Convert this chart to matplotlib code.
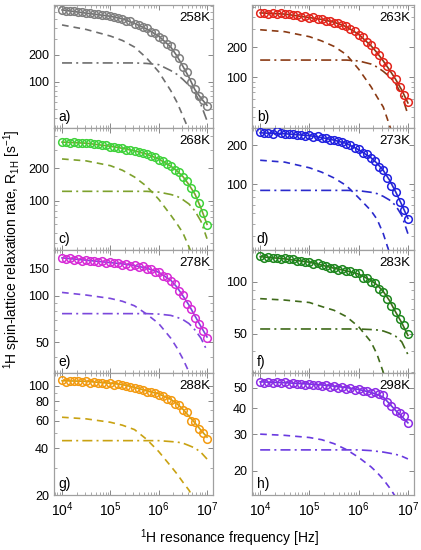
import numpy as np
import matplotlib
matplotlib.use("Agg")
import matplotlib.pyplot as plt
from matplotlib.ticker import FixedLocator, LogLocator, NullFormatter, FixedFormatter, LogFormatterMathtext

plt.rcParams['font.family'] = ['Liberation Sans', 'DejaVu Sans']
plt.rcParams['mathtext.default'] = 'regular'

# measured frequencies [kHz], 12 per decade
freq_khz = [10, 12.1, 14.7, 17.8, 21.5, 26.1, 31.6, 38.3, 46.4, 56.2, 68.1, 82.5,
            100, 121, 147, 178, 215, 261, 316, 383, 464, 562, 681, 825,
            1000, 1210, 1470, 1780, 2150, 2610, 3160, 3830, 4640, 5620, 6810, 8250, 10000]
# frequencies where the fitted curves were read [kHz]
fit_khz = [10, 31.6, 100, 178, 316, 562, 1000, 1780, 2370, 3160, 4220, 5620, 7500, 10000]

temps = ['258K', '263K', '268K', '273K', '278K', '283K', '288K', '298K']
letters = ['a)', 'b)', 'c)', 'd)', 'e)', 'f)', 'g)', 'h)']

# R1H data, s^-1
r258 = [640, 622, 612, 618, 596, 600, 580, 584, 566, 570, 552, 556, 538, 532, 512, 508, 482, 474, 448,
        436, 405, 395, 365, 352, 320, 305, 268, 250, 208, 185, 148, 128, 100, 84, 70, 63, 54]
r263 = [438, 444, 432, 440, 428, 434, 426, 430, 415, 418, 404, 408, 392, 396, 380, 384, 366, 368, 352,
        346, 330, 322, 300, 290, 264, 250, 224, 210, 182, 168, 142, 128, 108, 96, 80, 66, 56]
r268 = [350, 356, 346, 352, 343, 349, 342, 344, 335, 338, 328, 330, 320, 320, 310, 312, 300, 300, 290,
        287, 277, 274, 260, 256, 242, 236, 220, 212, 194, 184, 165, 152, 130, 116, 94, 77, 59]
r273 = [250, 246, 249, 244, 254, 246, 245, 243, 242, 238, 240, 236, 237, 232, 233, 228, 226, 220, 219,
        213, 211, 204, 200, 190, 185, 175, 170, 158, 150, 136, 128, 112, 98, 88, 74, 64, 54]
r278 = [177, 172, 175, 170, 172, 168, 170, 167, 169, 165, 167, 163, 165, 162, 163, 159, 161, 156, 158,
        153, 155, 150, 149, 143, 143, 135, 133, 124, 119, 107, 101, 89, 82, 72, 66, 59, 53]
r283 = [141, 138, 139, 137, 138, 136, 137, 135, 135, 133, 133, 131, 131, 127, 128, 125, 124, 121, 121,
        117, 118, 115, 115, 112, 112, 106, 106, 100, 98, 91, 88, 80, 73, 67, 61, 56, 50]
r288 = [109, 106, 108, 107, 108, 106, 107, 105, 106, 104, 105, 103, 104, 102, 103, 101, 100, 98, 97,
        95, 94, 92, 91, 90, 88, 86, 83, 81, 77, 75, 70, 68, 60, 59, 53, 50, 46]
r298 = [53.5, 53.0, 53.6, 53.0, 53.4, 52.6, 53.2, 52.5, 52.8, 52.0, 52.5, 51.8, 52.3, 51.5, 51.8, 51.0,
        51.4, 50.5, 51.0, 50.2, 50.4, 49.6, 49.8, 48.8, 49.2, 48.2, 48.5, 47.4, 47.6, 47.0, 46.0, 43.0,
        41.0, 38.8, 37.8, 36.5, 34.0]

# total fit (solid), first contribution (dashed), second contribution (dash-dot)
fit258 = [635, 585, 540, 505, 450, 390, 325, 245, 196, 150, 113, 82, 66, 55]
slow258 = [432, 385, 325, 290, 245, 185, 130, 80, 60, 42, 29, 20, 13, 8]
fast258 = [163, 163, 163, 163, 163, 161, 156, 134, 122, 107, 92, 76, 56, 37]

fit263 = [440, 428, 395, 378, 355, 320, 268, 206, 175, 145, 118, 95, 74, 55]
slow263 = [298, 285, 254, 230, 203, 168, 120, 80, 63, 50, 33, 22, 14, 9]
fast263 = [148, 148, 148, 148, 148, 148, 145, 135, 126, 114, 101, 86, 66, 42]

fit268 = [352, 344, 322, 308, 292, 272, 245, 210, 190, 168, 141, 115, 85, 60]
slow268 = [245, 235, 212, 192, 166, 136, 103, 73, 61, 50, 37, 27, 19, 12]
fast268 = [122, 122, 122, 122, 122, 122, 120, 114, 110, 102, 93, 80, 64, 44]

fit273 = [248, 244, 236, 228, 218, 206, 184, 160, 145, 128, 108, 88, 70, 55]
slow273 = [153, 148, 134, 124, 112, 98, 79, 63, 54, 42, 30, 20, 13, 8]
fast273 = [90, 90, 90, 90, 90, 90, 89.5, 87, 85, 81, 76, 69, 58, 42]

fit278 = [176, 170, 164, 161, 157, 151, 142, 126, 114, 100, 87, 74, 63, 54]
slow278 = [105, 101, 96, 92, 86, 76, 66, 53, 46, 39, 32, 25, 18, 12]
fast278 = [76.5, 76.5, 76.5, 76.5, 76.5, 76.5, 76, 74.5, 72.5, 70, 66, 60, 53, 44]

fit283 = [140, 136, 130, 125, 120, 116, 111, 102, 96, 88, 78, 67, 58, 49]
slow283 = [80, 78.5, 76, 72, 68.5, 63, 55, 45, 38, 30, 23, 17, 12, 8]
fast283 = [53.4, 53.4, 53.4, 53.4, 53.4, 53.4, 53.4, 53, 52.7, 52, 50.5, 48.5, 45, 38]

fit288 = [108, 107, 104, 102, 98, 93, 89, 82, 77, 71, 64, 58, 52, 47]
slow288 = [63, 61.5, 58.5, 56, 52.5, 45.5, 38, 30.6, 27.4, 24.2, 21.5, 18.5, 14.5, 10]
fast288 = [44.6, 44.6, 44.6, 44.6, 44.6, 44.6, 44.6, 44, 43.7, 43, 41.5, 40, 37.5, 34]

fit298 = [53.5, 53, 52.2, 51.7, 51, 50.2, 49.2, 47.6, 46.5, 45.2, 42, 39, 36.5, 34]
slow298 = [30, 29.6, 28.9, 28.2, 27, 25.3, 23.2, 20.9, 19.6, 18.2, 16.6, 15, 12.8, 10.5]
fast298 = [25.2, 25.2, 25.2, 25.2, 25.2, 25.2, 25.2, 25.0, 24.8, 24.6, 24.3, 24.0, 23.5, 22.8]

data = [r258, r263, r268, r273, r278, r283, r288, r298]
fits = [fit258, fit263, fit268, fit273, fit278, fit283, fit288, fit298]
slows = [slow258, slow263, slow268, slow273, slow278, slow283, slow288, slow298]
fasts = [fast258, fast263, fast268, fast273, fast278, fast283, fast288, fast298]

# y tick labels and ranges per panel
yticks = [[100, 200], [100, 200], [100, 200], [100, 200],
          [50, 100, 150], [50, 100], [20, 40, 60, 80, 100], [20, 30, 40, 50]]
ylims = [(30.7, 721), (30.8, 528), (34.5, 477), (31.5, 270),
         (31.5, 198), (29.7, 153), (20, 121), (15.3, 59)]

dot_colors = ['#7f7f7f', '#e3241b', '#3fd23a', '#1f1fe0', '#d62bd6', '#1d861d', '#f39a10', '#8c2ce6']
line_colors = ['#6e6e6e', '#8a3a14', '#7da12c', '#2a2acc', '#7b48dc', '#3f6a1a', '#c9a212', '#6a3ae0']

fig = plt.figure(figsize=(4.21, 5.5), dpi=100)

W, H = 421.0, 550.0
col_x = [54, 252]
col_w = [159, 162]
row_top = [5, 128, 250, 373, 495]

f_data = np.array(freq_khz) * 1e3
f_fit = np.array(fit_khz) * 1e3

for i in range(8):
    r, c = i // 2, i % 2
    x0 = col_x[c] / W
    y0 = 1 - row_top[r + 1] / H
    h = (row_top[r + 1] - row_top[r]) / H
    ax = fig.add_axes([x0, y0, col_w[c] / W, h])
    ax.set_xscale('log')
    ax.set_yscale('log')

    ax.plot(f_fit, fits[i], '-', color=line_colors[i], lw=1.2, zorder=2)
    ax.plot(f_fit, slows[i], '--', color=line_colors[i], lw=1.2, dashes=(4, 3), zorder=2)
    ax.plot(f_fit, fasts[i], '-.', color=line_colors[i], lw=1.2, dashes=(6, 2.5, 1.2, 2.5), zorder=2)
    ax.plot(f_data, data[i], 'o', mfc='none', mec=dot_colors[i], ms=5.5, mew=1.1, zorder=3)

    ax.set_xlim(6823, 1.33e7)
    ax.set_ylim(*ylims[i])

    ax.yaxis.set_major_locator(FixedLocator(yticks[i]))
    ax.yaxis.set_major_formatter(FixedFormatter([str(t) for t in yticks[i]]))
    ax.yaxis.set_minor_locator(LogLocator(base=10, subs=np.arange(1, 10) * 1.0, numticks=20))
    ax.yaxis.set_minor_formatter(NullFormatter())

    ax.xaxis.set_major_locator(FixedLocator([1e4, 1e5, 1e6, 1e7]))
    ax.xaxis.set_minor_locator(LogLocator(base=10, subs=np.arange(2, 10) * 1.0, numticks=20))
    ax.xaxis.set_minor_formatter(NullFormatter())
    if r == 3:
        ax.xaxis.set_major_formatter(LogFormatterMathtext())
    else:
        ax.xaxis.set_major_formatter(NullFormatter())

    ax.tick_params(which='both', direction='in', top=True, right=True, colors='#888888',
                   labelcolor='black', labelsize=9)
    ax.tick_params(which='major', length=3.5, width=0.7)
    ax.tick_params(which='minor', length=2, width=0.5)
    ax.tick_params(axis='x', labelsize=10, pad=4)
    for s in ax.spines.values():
        s.set_color('#a0a0a0')
        s.set_linewidth(0.9)

    ax.text(0.98, 0.945, temps[i], transform=ax.transAxes, ha='right', va='top', fontsize=9.5)
    ax.text(0.03, 0.035, letters[i], transform=ax.transAxes, ha='left', va='bottom', fontsize=10)

fig.text(0.03, 0.547, '$^{1}$H spin-lattice relaxation rate, R$_{1H}$ [s$^{-1}$]',
         rotation=90, ha='center', va='center', fontsize=10)
fig.text(0.545, 0.022, '$^{1}$H resonance frequency [Hz]', ha='center', va='center', fontsize=10)

fig.savefig('out.png', dpi=100)
